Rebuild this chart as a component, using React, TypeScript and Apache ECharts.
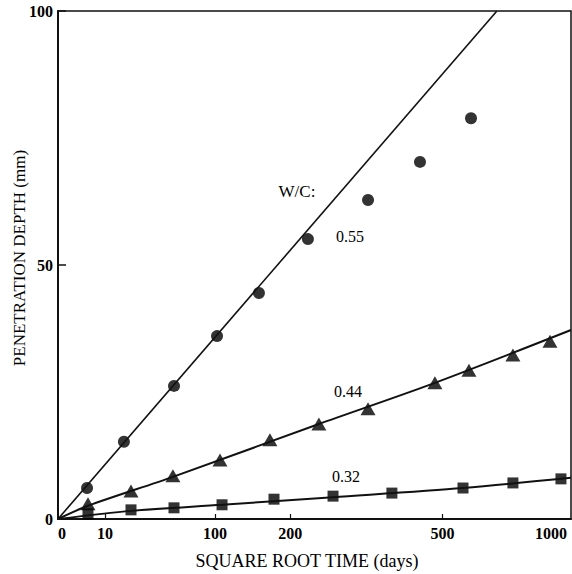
import React, { useEffect, useRef } from "react";
import * as echarts from "echarts";

// x axis: square root of time (sqrt(days)), as drawn in the figure
const xTickLabels = ["0", "10", "100", "200", "500", "1000"];
const xTickPositions = [0, 3.0, 10, 14.8, 24.5, 31.4];
const xTickMarks = [3.0, 10, 14.8, 24.5];
const xMax = 32.68;

const yTicks = [0, 50, 100];

// W/C 0.55 (circles)
const wc055X = [1.85, 4.2, 7.39, 10.13, 12.8, 15.92, 19.75, 23.06, 26.31];
const wc055Y = [6.1, 15.2, 26.2, 36.0, 44.5, 55.1, 62.8, 70.3, 78.9];
// W/C 0.44 (triangles)
const wc044X = [1.91, 4.65, 7.32, 10.32, 13.5, 16.62, 19.75, 24.01, 26.18, 28.98, 31.34];
const wc044Y = [3.0, 5.5, 8.5, 11.6, 15.6, 18.7, 21.7, 26.8, 29.3, 32.3, 35.0];
// W/C 0.32 (squares)
const wc032X = [1.91, 4.65, 7.39, 10.45, 13.76, 17.52, 21.27, 25.8, 28.98, 32.04];
const wc032Y = [1.0, 1.8, 2.2, 2.8, 3.9, 4.5, 5.1, 6.1, 7.1, 7.9];

// fitted lines
const fit055X = [0, 27.96];
const fit055Y = [0, 100];
const fit044X = [0, 1.91, 7.32, 16.62, 24.01, 32.68];
const fit044Y = [0, 2.6, 8.3, 18.7, 26.8, 37.2];
const fit032X = [0, 4.65, 10.45, 17.52, 25.8, 32.68];
const fit032Y = [0, 1.6, 2.8, 4.3, 6.1, 8.1];

const labels = ["W/C:", "0.55", "0.44", "0.32"];

const zip = (xs: number[], ys: number[]) => xs.map((x, i) => [x, ys[i]]);

const SERIF = '"Liberation Serif", "DejaVu Serif", serif';

export default function App() {
  const ref = useRef<HTMLDivElement>(null);
  useEffect(() => {
    if (!ref.current) return;
    const chart = echarts.init(ref.current, undefined, { renderer: "svg" });
    const lineCommon = {
      type: "line" as const,
      showSymbol: false,
      symbol: "none",
      clip: true,
      silent: true,
    };
    const txt = (text: string, x: number, y: number, size: number, rotation = 0, weight = "normal") => ({
      type: "text",
      x,
      y,
      rotation,
      style: {
        text,
        fill: "#000",
        font: `${weight} ${size}px ${SERIF}`,
        align: "center",
        verticalAlign: "middle",
        textAlign: "center",
        textVerticalAlign: "middle",
      },
    });
    chart.setOption({
      animation: false,
      backgroundColor: "#fff",
      grid: {
        left: 58,
        right: 1,
        top: 11,
        bottom: 55,
        show: true,
        borderColor: "#111",
        borderWidth: 1.5,
        backgroundColor: "transparent",
      },
      xAxis: {
        type: "value",
        min: 0,
        max: xMax,
        axisLine: { show: true, onZero: false, lineStyle: { color: "#111", width: 2 } },
        splitLine: { show: false },
        axisTick: {
          show: true,
          inside: true,
          length: 5,
          customValues: xTickMarks,
          lineStyle: { color: "#111", width: 1.2 },
        },
        axisLabel: {
          customValues: xTickPositions,
          alignMinLabel: "left",
          margin: 6,
          color: "#000",
          fontFamily: SERIF,
          fontWeight: "bold",
          fontSize: 16,
          formatter: (v: number) => {
            const i = xTickPositions.findIndex((p) => Math.abs(p - v) < 1e-6);
            return i >= 0 ? xTickLabels[i] : "";
          },
        },
      },
      yAxis: {
        type: "value",
        min: yTicks[0],
        max: yTicks[yTicks.length - 1],
        interval: 50,
        axisLine: { show: true, onZero: false, lineStyle: { color: "#111", width: 2 } },
        splitLine: { show: false },
        axisTick: { show: true, inside: true, length: 8, lineStyle: { color: "#111", width: 1.5 } },
        axisLabel: {
          margin: 5,
          color: "#000",
          fontFamily: SERIF,
          fontWeight: "bold",
          fontSize: 16,
        },
      },
      series: [
        { ...lineCommon, data: zip(fit055X, fit055Y), lineStyle: { color: "#111", width: 1.6 } },
        { ...lineCommon, data: zip(fit044X, fit044Y), smooth: 0.3, lineStyle: { color: "#111", width: 2 } },
        { ...lineCommon, data: zip(fit032X, fit032Y), smooth: 0.3, lineStyle: { color: "#111", width: 2 } },
        {
          type: "scatter",
          data: zip(wc055X, wc055Y),
          symbol: "circle",
          symbolSize: 12,
          itemStyle: { color: "#000" },
        },
        {
          type: "scatter",
          data: zip(wc044X, wc044Y),
          symbol: "triangle",
          symbolSize: [15, 13],
          itemStyle: { color: "#000" },
        },
        {
          type: "scatter",
          data: zip(wc032X, wc032Y),
          symbol: "rect",
          symbolSize: 11,
          itemStyle: { color: "#000" },
        },
      ],
      graphic: [
        txt("PENETRATION DEPTH (mm)", 19, 258, 17, Math.PI / 2),
        txt("SQUARE ROOT TIME (days)", 307, 561, 18),
        txt(labels[0], 297, 191, 17),
        txt(labels[1], 350, 236, 16),
        txt(labels[2], 348, 391, 16),
        txt(labels[3], 346, 476, 16),
      ],
    });
    return () => chart.dispose();
  }, []);
  return (
    <div
      ref={ref}
      style={{ position: "fixed", left: 0, top: 0, width: 572, height: 574, background: "#fff" }}
    />
  );
}
